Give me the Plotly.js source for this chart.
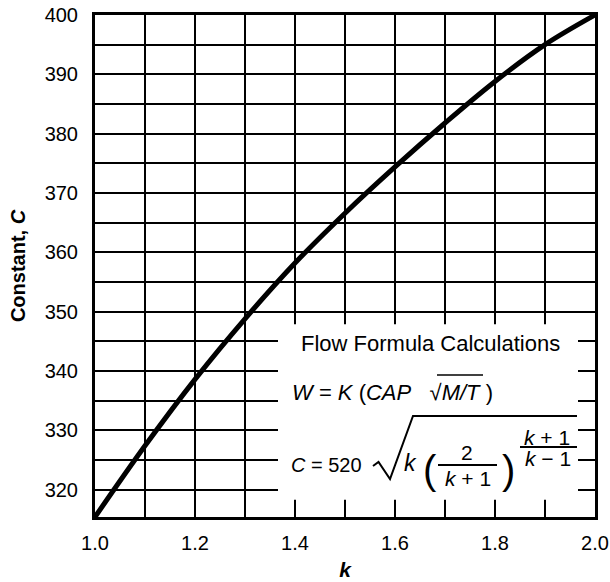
<!DOCTYPE html>
<html>
<head>
<meta charset="utf-8">
<script src="https://cdn.plot.ly/plotly-3.0.1.min.js"></script>
<style>html,body{margin:0;padding:0;background:#fff;}#chart{width:610px;height:582px;}</style>
</head>
<body>
<div id="chart"></div>
<script>
// Data
const kValues = [1.0, 1.1, 1.2, 1.3, 1.4, 1.5, 1.6, 1.7, 1.8, 1.9, 2.0];
const cValues = [315.4, 327.4, 338.6, 348.8, 358.2, 366.6, 374.4, 381.8, 388.8, 395.0, 400.0];
const xTickVals = [1.0, 1.2, 1.4, 1.6, 1.8, 2.0];
const xTickText = ["1.0", "1.2", "1.4", "1.6", "1.8", "2.0"];
const yTickVals = [320, 330, 340, 350, 360, 370, 380, 390, 400];
const yTickText = ["320", "330", "340", "350", "360", "370", "380", "390", "400"];
const xTitle = "<b><i>k</i></b>";
const yTitle = "<b>Constant, <i>C</i></b>";
const boxTitle = "Flow Formula Calculations";

const FONT = "'Liberation Sans', Arial, Helvetica, sans-serif";

const trace = {
  x: kValues, y: cValues, type: 'scatter', mode: 'lines',
  line: {color: '#000', width: 5, shape: 'spline', smoothing: 1},
  hoverinfo: 'skip', showlegend: false
};

function ann(text, x, y, size, xanchor) {
  return {text: text, x: x, y: y, xref: 'paper', yref: 'paper', showarrow: false,
          xanchor: xanchor || 'center', yanchor: 'middle',
          font: {family: FONT, size: size, color: '#000'}};
}

const layout = {
  width: 610, height: 582,
  margin: {l: 95, r: 15, t: 15, b: 65},
  paper_bgcolor: '#fff', plot_bgcolor: '#fff',
  font: {family: FONT, color: '#000'},
  showlegend: false,
  xaxis: {
    range: [1.0, 2.0], tickvals: xTickVals, ticktext: xTickText,
    showgrid: true, gridcolor: '#000', gridwidth: 2,
    minor: {dtick: 0.1, tick0: 1.0, showgrid: true, gridcolor: '#000', gridwidth: 2},
    showline: true, mirror: true, linecolor: '#000', linewidth: 3,
    ticks: '', ticklabelstandoff: 6, zeroline: false,
    tickfont: {family: FONT, size: 20, color: '#000'},
    title: {text: xTitle, font: {family: FONT, size: 21, color: '#000'}, standoff: 10}
  },
  yaxis: {
    range: [315.4, 400], tickvals: yTickVals, ticktext: yTickText,
    showgrid: true, gridcolor: '#000', gridwidth: 2,
    minor: {dtick: 5, tick0: 320, showgrid: true, gridcolor: '#000', gridwidth: 2},
    showline: true, mirror: true, linecolor: '#000', linewidth: 3,
    ticks: '', ticklabelstandoff: 10, zeroline: false,
    tickfont: {family: FONT, size: 20, color: '#000'},
    title: {text: yTitle, font: {family: FONT, size: 20, color: '#000'}, standoff: 14}
  },
  shapes: [
    {type: 'rect', xref: 'x', yref: 'y', x0: 1.366, x1: 1.966, y0: 318.3, y1: 347.9,
     fillcolor: '#fff', line: {width: 0}, layer: 'above'},
    // radical sign
    {type: 'path', xref: 'paper', yref: 'paper',
     path: 'M 0.556 0.1016 L 0.567 0.1096 L 0.590 0.0757 L 0.636 0.2012 L 0.964 0.2012',
     line: {color: '#000', width: 2}, layer: 'above'},
    // fraction bar 2/(k+1)
    {type: 'line', xref: 'paper', yref: 'paper', x0: 0.686, x1: 0.804, y0: 0.1036, y1: 0.1036,
     line: {color: '#000', width: 2}, layer: 'above'},
    // exponent bar
    {type: 'line', xref: 'paper', yref: 'paper', x0: 0.85, x1: 0.964, y0: 0.1394, y1: 0.1394,
     line: {color: '#000', width: 2}, layer: 'above'},
    // overline over M/T
    {type: 'line', xref: 'paper', yref: 'paper', x0: 0.684, x1: 0.776, y0: 0.283, y1: 0.283,
     line: {color: '#000', width: 1.5}, layer: 'above'}
  ],
  annotations: [
    ann(boxTitle, 0.67, 0.3466, 22),
    ann('<i>W</i> = <i>K</i> (<i>CAP</i>   √<i>M/T</i> )', 0.39, 0.249, 22, 'left'),
    ann('<i>C</i> = 520', 0.388, 0.1036, 20, 'left'),
    ann('<i>k</i>', 0.63, 0.1076, 23),
    ann('(', 0.67, 0.0936, 40),
    ann(')', 0.826, 0.0936, 40),
    ann('2', 0.744, 0.1275, 21),
    ann('<i>k</i> + 1', 0.746, 0.0757, 21),
    ann('<i>k</i> + 1', 0.904, 0.159, 21),
    ann('<i>k</i> − 1', 0.906, 0.1175, 21)
  ]
};

Plotly.newPlot('chart', [trace], layout, {displayModeBar: false, staticPlot: true});
</script>
</body>
</html>
